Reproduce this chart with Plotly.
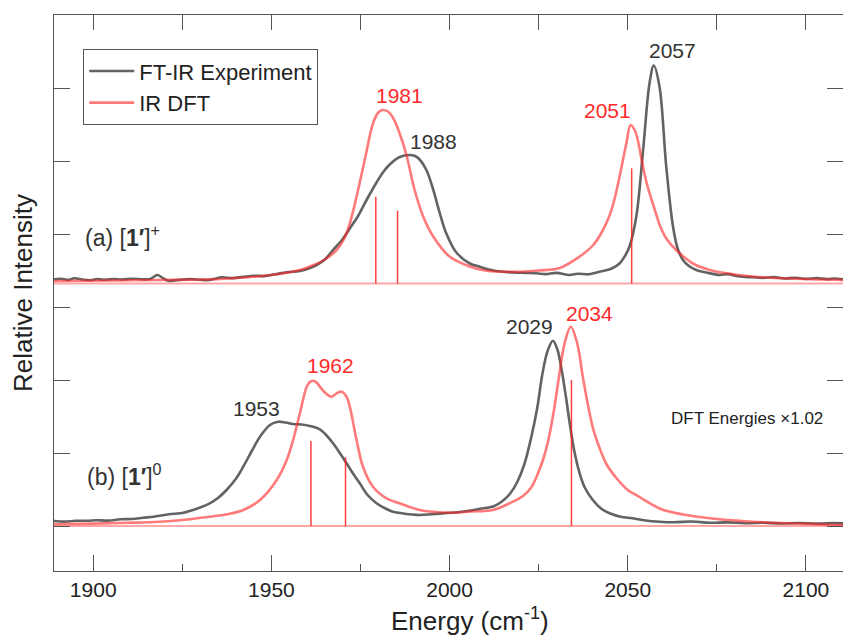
import plotly.graph_objects as go

# ---------------- data (intensities in arbitrary units above each baseline) ----------------
# (a) [1']+  FT-IR experiment
exp_a_energy = [1889, 1891, 1893, 1894.6, 1897, 1899, 1901, 1903, 1906, 1908, 1911, 1914, 1916,
                1918, 1919.5, 1921, 1924, 1927, 1930, 1932, 1934, 1936, 1939, 1942, 1945, 1948,
                1951, 1954.4, 1958, 1960.5, 1962.7, 1965, 1967.3, 1969.7, 1972, 1974.4, 1976.7,
                1979.5, 1981.5, 1983.2, 1986, 1988.8, 1990.3, 1991.6, 1993.5, 1995.4, 1997.2,
                1999.1, 2001.9, 2005.7, 2008.5, 2011, 2014.9, 2018, 2021, 2024.4, 2027, 2030,
                2033.7, 2036, 2039, 2041, 2043, 2045.5, 2047.7, 2049.3, 2050.5, 2052.4, 2054.3,
                2056.1, 2057.3, 2058.9, 2060.8, 2062.7, 2064, 2065.5, 2067, 2069.2, 2072,
                2075.8, 2078, 2081, 2085, 2088, 2091, 2094, 2097, 2100, 2103, 2106, 2108, 2110.4]
exp_a_int = [4.2, 4.8, 3.6, 5.2, 4.0, 3.2, 4.4, 3.8, 4.5, 4.0, 4.8, 4.2, 4.6,
             8.5, 5.5, 2.8, 3.6, 4.4, 3.8, 3.4, 4.6, 6.2, 5.4, 6.6, 7.8, 7.4,
             9.2, 11.2, 12.5, 15, 18.5, 24, 33.5, 43, 55, 68, 83.5,
             101, 112, 119, 126.5, 128.5, 127.5, 124, 113.5, 94, 71,
             50, 31, 20, 16.8, 14, 11.8, 11.0, 10.6, 10.2, 9.4, 10.6,
             8.5, 9.8, 9.2, 10.8, 12.5, 15, 20, 28, 37, 67, 133,
             200, 218, 197, 117, 57, 35, 23.5, 18, 13.5, 11,
             8.5, 9.4, 7.2, 6.2, 5.6, 6.4, 5.0, 5.8, 4.6, 5.4, 4.4, 5.0, 4.2]

# (a) [1']+  broadened DFT spectrum
dft_a_energy = [1889, 1905, 1918, 1935.7, 1945.1, 1954.4, 1958, 1961.9, 1965, 1968.3, 1970.3,
                1972, 1974.3, 1976.4, 1978.5, 1980, 1981.3, 1982.7, 1984.1, 1986, 1987.9,
                1990.2, 1992.6, 1995.4, 2000, 2005.7, 2010, 2015, 2020, 2025, 2030.9, 2036.5,
                2040.2, 2042.5, 2044.9, 2046.4, 2047.7, 2049.6, 2050.8, 2052, 2052.9, 2054,
                2055.2, 2056.5, 2058, 2059, 2061, 2063.6, 2068.3, 2073, 2080, 2085, 2095, 2110.4]
dft_a_int = [2.5, 3.0, 3.5, 4.5, 6.8, 10.8, 13.5, 18.5, 24, 33.5, 44,
             60, 93, 127, 160, 171, 173.5, 172, 166, 150, 128.5,
             93.5, 67, 47, 27, 17, 13, 11.8, 11.8, 13, 15.5, 27,
             38, 50, 68, 86, 107, 140, 158.5, 153, 142, 122,
             102, 86, 69, 58, 44, 33.5, 20, 13.5, 9, 7, 5, 3.5]

# (a) [1']+  DFT stick positions
stick_a_energy = [1979.3, 1985.4, 2051.1]
stick_a_int = [86.8, 72.8, 115.2]

# (b) [1']0  FT-IR experiment
exp_b_energy = [1889, 1892, 1895, 1898.3, 1901, 1904, 1907.7, 1911, 1914, 1917, 1920, 1922.7,
                1925, 1927.3, 1930, 1932.7, 1935, 1937.4, 1940, 1942.1, 1944.5, 1946.8, 1949.6,
                1951.9, 1954, 1956.1, 1958.5, 1960.8, 1963.6, 1965.5, 1967.3, 1969.2, 1971.1,
                1973, 1974.8, 1977, 1979.5, 1982, 1984.1, 1987, 1991.6, 1995, 1998, 2002.9,
                2006, 2009, 2012.2, 2014.5, 2016.9, 2019, 2021, 2023, 2024.6, 2026, 2027.5,
                2029, 2030.3, 2031.5, 2032.7, 2033.7, 2035, 2036.5, 2038, 2040.2, 2042.5,
                2044.9, 2048, 2051.4, 2055, 2058.9, 2063, 2068, 2073, 2078, 2083, 2088, 2093,
                2098, 2103, 2108, 2110.4]
exp_b_int = [5.0, 4.4, 5.2, 5.3, 5.8, 5.4, 6.7, 7.0, 8.2, 9.3, 11.0, 12.2,
             13.0, 15.3, 18.5, 22.7, 28, 36, 47, 59.3, 75, 89.3, 101,
             104.3, 103.5, 102, 101.5, 100, 96.7, 90.5, 82.7, 73, 62.7,
             52, 42.7, 31, 22.7, 17.5, 14.3, 12.5, 11, 11.8, 12.6, 14.0,
             15.5, 17.5, 19.5, 24, 32, 44, 62, 90, 118, 151, 175,
             185.3, 176, 155, 128, 103, 75, 52.7, 38, 26, 17.5,
             12.7, 9.3, 7.7, 5.5, 4.3, 3.8, 4.5, 3.2, 3.6, 2.8, 3.2, 2.5,
             3.0, 2.4, 2.9, 2.6]

# (b) [1']0  broadened DFT spectrum
dft_b_energy = [1889, 1900, 1910, 1918.7, 1925, 1932.7, 1938, 1942.1, 1946.8, 1951.5, 1954.3,
                1956.1, 1958, 1959.9, 1960.8, 1961.7, 1962.7, 1963.6, 1965.5, 1966.9, 1968.3,
                1969.7, 1971.1, 1972, 1973.9, 1975.7, 1978.5, 1982.3, 1986, 1991.6, 1996, 2001,
                2006, 2012.2, 2017, 2020.6, 2022.8, 2024.5, 2026.2, 2027.6, 2029.3, 2030.7,
                2032.3, 2034, 2035.8, 2037.4, 2039.1, 2040.3, 2041.6, 2044, 2046.8, 2050,
                2053.3, 2057, 2060, 2066.4, 2075, 2085.1, 2097, 2110.4]
dft_b_int = [1.7, 2.4, 3.2, 4.3, 6.0, 9.3, 12, 16, 26, 46, 66,
             86, 112.7, 139.3, 144, 145.3, 143.5, 139.3, 132, 129.3, 132.7,
             134.3, 129.3, 119.3, 86, 59.3, 39.3, 27.7, 22.7, 16, 14, 13.3,
             14.5, 16, 23, 30, 38, 50, 66, 84, 116, 149,
             183, 199.3, 183, 149, 116, 97, 82.7, 62, 48, 36,
             29, 21, 16, 11, 7, 4.3, 2.5, 1.0]

# (b) [1']0  DFT stick positions
stick_b_energy = [1961.1, 1970.8, 2034.2]
stick_b_int = [85.0, 68.7, 146.0]

# peak annotations: (text, energy, height, colour key)
peak_labels = [
    ("1981", 1986.0, 431, "dft"),
    ("1988", 1995.6, 385, "exp"),
    ("2051", 2044.4, 416, "dft"),
    ("2057", 2062.6, 476, "exp"),
    ("1962", 1966.7, 161, "dft"),
    ("1953", 1945.9, 118, "exp"),
    ("2029", 2022.5, 200, "exp"),
    ("2034", 2039.3, 213, "dft"),
]

# vertical stacking of the two spectra
OFFSET_A = 242.5
OFFSET_B = 0.0
X_RANGE = [1889, 2110.4]
Y_RANGE = [-45, 511]
Y_TICK = 73

# ---------------- styling ----------------
EXP_COLOR = "rgba(60,60,60,0.8)"
DFT_COLOR = "rgba(255,40,40,0.62)"
STICK_COLOR = "rgba(255,30,30,0.85)"
BASE_COLOR = "rgba(255,60,60,0.45)"
LABEL_COLORS = {"exp": "#333333", "dft": "#ff2a2a"}
FONT = "Arial, Liberation Sans, sans-serif"
AXIS_COLOR = "#555555"


def stick_path(energies, heights, base):
    """Vertical stick segments separated by gaps."""
    xs, ys = [], []
    for e, h in zip(energies, heights):
        xs += [e, e, None]
        ys += [base, base + h, None]
    return xs, ys


fig = go.Figure()

for energy, inten, off in [(stick_a_energy, stick_a_int, OFFSET_A),
                           (stick_b_energy, stick_b_int, OFFSET_B)]:
    sx, sy = stick_path(energy, inten, off)
    fig.add_trace(go.Scatter(x=sx, y=sy, mode="lines", xaxis="x2", yaxis="y",
                             line=dict(color=STICK_COLOR, width=1.5),
                             showlegend=False, hoverinfo="skip"))

line_exp = dict(color=EXP_COLOR, width=2.6, shape="spline", smoothing=1.0)
line_dft = dict(color=DFT_COLOR, width=2.6, shape="spline", smoothing=1.0)

fig.add_trace(go.Scatter(x=exp_a_energy, y=[v + OFFSET_A for v in exp_a_int], mode="lines",
                         line=line_exp, name="FT-IR Experiment", legendgroup="exp"))
fig.add_trace(go.Scatter(x=exp_b_energy, y=[v + OFFSET_B for v in exp_b_int], mode="lines",
                         line=line_exp, name="FT-IR Experiment", legendgroup="exp",
                         showlegend=False))
fig.add_trace(go.Scatter(x=dft_a_energy, y=[v + OFFSET_A for v in dft_a_int], mode="lines",
                         line=line_dft, name="IR DFT", legendgroup="dft"))
fig.add_trace(go.Scatter(x=dft_b_energy, y=[v + OFFSET_B for v in dft_b_int], mode="lines",
                         line=line_dft, name="IR DFT", legendgroup="dft", showlegend=False))

# stick-spectrum baselines
for off in (OFFSET_A, OFFSET_B):
    fig.add_shape(type="line", xref="paper", x0=0, x1=1, yref="y", y0=off, y1=off,
                  line=dict(color=BASE_COLOR, width=2), layer="below")

annotations = []
for text, e, h, key in peak_labels:
    annotations.append(dict(x=e, y=h, xref="x", yref="y", text=text, showarrow=False,
                            xanchor="center", yanchor="middle",
                            font=dict(size=21, color=LABEL_COLORS[key], family=FONT)))
annotations += [
    dict(x=1897.1, y=290, xref="x", yref="y", text="(a) [<b>1′</b>]<sup>+</sup>",
         showarrow=False, xanchor="left", yanchor="middle",
         font=dict(size=23, color="#333333", family=FONT)),
    dict(x=1897.7, y=51, xref="x", yref="y", text="(b) [<b>1′</b>]<sup>0</sup>",
         showarrow=False, xanchor="left", yanchor="middle",
         font=dict(size=23, color="#333333", family=FONT)),
    dict(x=2083.6, y=108, xref="x", yref="y", text="DFT Energies ×1.02",
         showarrow=False, xanchor="center", yanchor="middle",
         font=dict(size=17, color="#222222", family=FONT)),
    dict(x=-0.0393, y=0.5, xref="paper", yref="paper", text="Relative Intensity",
         textangle=-90, showarrow=False, xanchor="center", yanchor="middle",
         font=dict(size=26, color="#222222", family=FONT)),
    dict(x=0.527, y=-0.088, xref="paper", yref="paper", text="Energy (cm<sup>-1</sup>)",
         showarrow=False, xanchor="center", yanchor="middle",
         font=dict(size=26, color="#222222", family=FONT)),
]

fig.update_layout(
    width=843, height=635,
    margin=dict(l=54, r=0, t=15, b=64),
    paper_bgcolor="white", plot_bgcolor="white",
    showlegend=True,
    legend=dict(x=0.0368, y=0.9388, xanchor="left", yanchor="top",
                bgcolor="white", bordercolor="#555555", borderwidth=1.2,
                font=dict(size=22, color="#222222", family=FONT),
                tracegroupgap=0, itemwidth=45),
    annotations=annotations,
    xaxis=dict(range=X_RANGE, showgrid=False, zeroline=False,
               showline=True, linecolor=AXIS_COLOR, linewidth=1.3,
               ticks="inside", ticklen=16, tickwidth=1.3, tickcolor=AXIS_COLOR,
               tick0=1900, dtick=50,
               minor=dict(ticks="inside", ticklen=7, tickwidth=1.3, tickcolor=AXIS_COLOR,
                          dtick=25, tick0=1900, showgrid=False),
               tickfont=dict(size=21, color="#222222", family=FONT)),
    xaxis2=dict(range=X_RANGE, matches="x", overlaying="x", side="top", anchor="y",
                showgrid=False, zeroline=False, showline=True, linecolor=AXIS_COLOR,
                linewidth=1.3, ticks="inside", ticklen=15, tickwidth=1.3,
                tickcolor=AXIS_COLOR, tick0=1900, dtick=25, showticklabels=False),
    yaxis=dict(range=Y_RANGE, showgrid=False, zeroline=False,
               showline=True, mirror="ticks", linecolor=AXIS_COLOR, linewidth=1.3,
               ticks="inside", ticklen=16, tickwidth=1.3, tickcolor=AXIS_COLOR,
               tick0=0, dtick=Y_TICK, showticklabels=False),
)

fig.write_html("out.html")
